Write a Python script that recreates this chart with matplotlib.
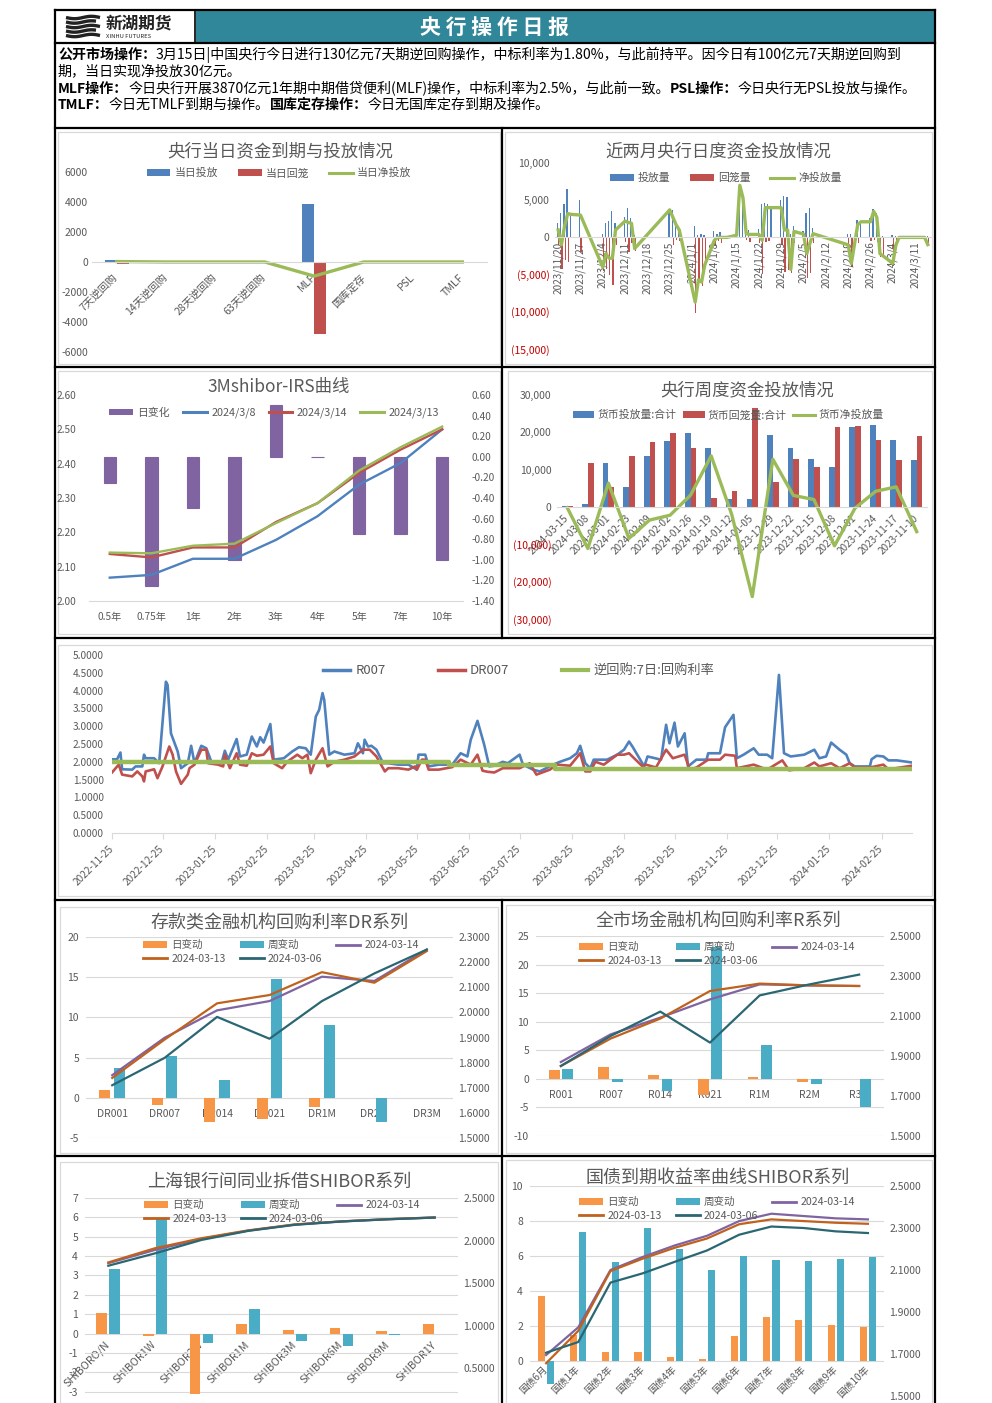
import matplotlib
matplotlib.use('Agg')
import matplotlib.pyplot as plt
import matplotlib.dates as mdates
import matplotlib.ticker as mticker
from matplotlib.patches import Rectangle, Patch
from matplotlib.lines import Line2D
import numpy as np

# ======================= DATA =======================
# Chart 1: 央行当日资金到期与投放情况
c1_cats = ['7天逆回购', '14天逆回购', '28天逆回购', '63天逆回购', 'MLF', '国库定存', 'PSL', 'TMLF']
c1_inject = [130, 0, 0, 0, 3870, 0, 0, 0]
c1_withdraw = [-100, 0, 0, 0, -4810, 0, 0, 0]
c1_net = [30, 0, 0, 0, -940, 0, 0, 0]

# Chart 2: 近两月央行日度资金投放情况
c2_dates = ['2023-11-20', '2023-11-21', '2023-11-22', '2023-11-23', '2023-11-24', '2023-11-27',
            '2023-12-04', '2023-12-05', '2023-12-06', '2023-12-07', '2023-12-08', '2023-12-11',
            '2023-12-12', '2023-12-13', '2023-12-14', '2023-12-25', '2023-12-26', '2023-12-27',
            '2023-12-28', '2024-01-02', '2024-01-03', '2024-01-04', '2024-01-05', '2024-01-08',
            '2024-01-09', '2024-01-10', '2024-01-12', '2024-01-15', '2024-01-16', '2024-01-17',
            '2024-01-18', '2024-01-19', '2024-01-22', '2024-01-23', '2024-01-24', '2024-01-25',
            '2024-01-26', '2024-01-29', '2024-01-30', '2024-01-31', '2024-02-01', '2024-02-02',
            '2024-02-05', '2024-02-06', '2024-02-07', '2024-02-08', '2024-02-19', '2024-02-20',
            '2024-02-22', '2024-02-23', '2024-02-26', '2024-02-27', '2024-02-28', '2024-02-29',
            '2024-03-01', '2024-03-04', '2024-03-05', '2024-03-06', '2024-03-07', '2024-03-08',
            '2024-03-11', '2024-03-12', '2024-03-13', '2024-03-14', '2024-03-15']
c2_inject = [2000, 3300, 4500, 6500, 3200, 5000,
             500, 2000, 2200, 3600, 2000, 2800,
             4000, 2600, 300, 3800, 3700, 2000,
             1500, 1500, 300, 500, 300, 800,
             500, 700, 0, 400, 7000, 5300,
             800, 1000, 1100, 4500, 4600, 4500,
             4000, 5000, 5600, 5400, 500, 1500,
             800, 3300, 4000, 1200, 500, 500,
             2400, 2100, 2600, 3800, 3300, 400,
             200, 300, 200, 200, 100, 100,
             100, 100, 100, 100, 130]
c2_withdraw = [-1000, -4300, -3000, -3300, -100, -2000,
               -4500, -4200, -5000, -6400, -1000, -600,
               -2000, -700, -1800, -100, -1000, -300,
               -500, -10200, -6000, -6500, -4000, -1200,
               -500, -700, 0, -100, 0, 0,
               -300, -600, -700, -4900, -600, -500,
               0, -1000, -4600, -4400, -4800, -700,
               -350, -5500, -4800, -700, -1500, -4000,
               -700, 0, -500, -300, -600, -2600,
               -2700, -3800, -1200, -200, -100, -100,
               -100, -100, -100, -100, -1100]
c2_net = [1000, -1000, 1500, 3200, 3100, 3000,
          -4000, -2200, -2800, -2800, 1000, 2200,
          2000, 1900, -1500, 3700, 2700, 1700,
          1000, -8700, -5700, -6000, -3700, -400,
          0, 0, 0, 300, 7000, 5300,
          500, 400, 400, -400, 4000, 4000,
          4000, 4000, 1000, 1000, -4300, 800,
          450, -2200, -800, 500, -1000, -3500,
          1700, 2100, 2100, 3500, 2700, -2200,
          -2500, -3500, -1000, 0, 0, 0,
          0, 0, 0, 0, -970]
c2_ticks = ['2023-11-20', '2023-11-27', '2023-12-04', '2023-12-11', '2023-12-18', '2023-12-25',
            '2024-01-01', '2024-01-08', '2024-01-15', '2024-01-22', '2024-01-29', '2024-02-05',
            '2024-02-12', '2024-02-19', '2024-02-26', '2024-03-04', '2024-03-11']

# Chart 3: 3Mshibor-IRS曲线
c3_tenors = ['0.5年', '0.75年', '1年', '2年', '3年', '4年', '5年', '7年', '10年']
c3_chg = [-0.25, -1.25, -0.50, -1.00, 0.50, 0.00, -0.75, -0.75, -1.00]
c3_0308 = [2.068, 2.076, 2.123, 2.123, 2.178, 2.247, 2.339, 2.402, 2.500]
c3_0314 = [2.137, 2.127, 2.156, 2.156, 2.230, 2.285, 2.373, 2.441, 2.500]
c3_0313 = [2.141, 2.139, 2.161, 2.167, 2.227, 2.285, 2.380, 2.448, 2.508]

# Chart 4: 央行周度资金投放情况
c4_weeks = ['2024-03-15', '2024-03-08', '2024-03-01', '2024-02-23', '2024-02-09', '2024-02-02',
            '2024-01-26', '2024-01-19', '2024-01-12', '2024-01-05', '2023-12-29', '2023-12-22',
            '2023-12-15', '2023-12-08', '2023-12-01', '2023-11-24', '2023-11-17', '2023-11-10']
c4_inject = [300, 700, 11800, 5300, 13700, 17600, 19800, 15800, 2200, 2200, 19300, 15800,
             12800, 10700, 21300, 21900, 17900, 12500]
c4_withdraw = [300, 11800, 5400, 13700, 17300, 19800, 15800, 2300, 4200, 26500, 6600, 12800,
               10700, 21300, 21800, 17900, 12500, 19000]
c4_net = [-200, -11100, 6400, -8400, -3500, -2200, 3200, 13700, -2000, -24000, 12800, 3100,
          2000, -10400, -300, 4200, 5400, -6600]

# Chart 5: R007 / DR007 / 逆回购7日利率
c5_r_dates = ['2022-11-25', '2022-11-28', '2022-11-30', '2022-12-01', '2022-12-07', '2022-12-09',
              '2022-12-13', '2022-12-14', '2022-12-15', '2022-12-20', '2022-12-23', '2022-12-27',
              '2022-12-28', '2022-12-30', '2023-01-03', '2023-01-05', '2023-01-09', '2023-01-11',
              '2023-01-13', '2023-01-17', '2023-01-20', '2023-01-23', '2023-01-29', '2023-01-31',
              '2023-02-02', '2023-02-07', '2023-02-09', '2023-02-13', '2023-02-16', '2023-02-19',
              '2023-02-21', '2023-02-23', '2023-02-27', '2023-03-01', '2023-03-07', '2023-03-12',
              '2023-03-16', '2023-03-20', '2023-03-23', '2023-03-26', '2023-03-28', '2023-03-30',
              '2023-03-31', '2023-04-03', '2023-04-06', '2023-04-12', '2023-04-18', '2023-04-20',
              '2023-04-23', '2023-04-24', '2023-04-26', '2023-04-28', '2023-05-01', '2023-05-05',
              '2023-05-08', '2023-05-14', '2023-05-20', '2023-05-25', '2023-05-26', '2023-05-30',
              '2023-06-01', '2023-06-07', '2023-06-15', '2023-06-20', '2023-06-24', '2023-06-26',
              '2023-06-30', '2023-07-04', '2023-07-07', '2023-07-10', '2023-07-15', '2023-07-18',
              '2023-07-25', '2023-07-27', '2023-08-02', '2023-08-06', '2023-08-14', '2023-08-18',
              '2023-08-24', '2023-08-28', '2023-08-30', '2023-09-02', '2023-09-05', '2023-09-07',
              '2023-09-15', '2023-09-21', '2023-09-25', '2023-09-28', '2023-09-30', '2023-10-07',
              '2023-10-09', '2023-10-17', '2023-10-20', '2023-10-22', '2023-10-25', '2023-10-27',
              '2023-10-31', '2023-11-02', '2023-11-07', '2023-11-13', '2023-11-14', '2023-11-21',
              '2023-11-24', '2023-11-29', '2023-12-01', '2023-12-05', '2023-12-11', '2023-12-14',
              '2023-12-19', '2023-12-22', '2023-12-26', '2023-12-29', '2024-01-02', '2024-01-10',
              '2024-01-16', '2024-01-19', '2024-01-23', '2024-01-26', '2024-01-31', '2024-02-04',
              '2024-02-06', '2024-02-09', '2024-02-18', '2024-02-19', '2024-02-22', '2024-02-26',
              '2024-02-29', '2024-03-05', '2024-03-14']
c5_r007 = [2.07, 2.07, 2.26, 1.79, 1.78, 1.87,
           1.87, 2.20, 2.10, 2.10, 1.96, 4.25,
           4.16, 2.80, 2.29, 1.82, 1.96, 2.45,
           1.96, 2.45, 2.38, 2.00, 1.96, 2.31,
           2.06, 2.64, 2.15, 2.20, 2.71, 2.43,
           2.69, 2.54, 3.06, 2.06, 2.10, 2.29,
           2.41, 2.38, 2.20, 3.27, 3.46, 3.93,
           3.74, 2.20, 2.29, 2.20, 2.24, 2.52,
           2.24, 2.62, 2.43, 2.45, 2.34, 1.96,
           1.96, 1.92, 1.92, 1.78, 2.20, 2.20,
           1.87, 1.92, 1.92, 2.24, 2.15, 2.62,
           3.15, 2.48, 1.87, 1.89, 2.00, 1.96,
           2.20, 1.92, 1.78, 1.73, 1.92, 2.00,
           2.10, 2.24, 2.45, 1.96, 1.82, 2.06,
           2.06, 2.20, 2.34, 2.57, 2.43, 1.87,
           2.15, 2.06, 3.04, 2.52, 3.10, 2.43,
           2.80, 1.87, 2.06, 2.06, 2.24, 2.24,
           2.97, 3.32, 2.10, 2.20, 2.38, 2.20,
           2.20, 2.10, 4.44, 2.24, 2.15, 2.20,
           2.34, 2.10, 2.15, 2.54, 2.34, 2.20,
           1.96, 1.87, 1.87, 2.07, 2.17, 2.15,
           2.04, 2.04, 1.98]
c5_dr_dates = ['2022-11-25', '2022-11-29', '2022-12-01', '2022-12-07', '2022-12-10', '2022-12-13',
               '2022-12-14', '2022-12-15', '2022-12-20', '2022-12-22', '2022-12-25', '2022-12-29',
               '2022-12-31', '2023-01-02', '2023-01-05', '2023-01-09', '2023-01-10', '2023-01-13',
               '2023-01-17', '2023-01-20', '2023-01-21', '2023-01-27', '2023-01-30', '2023-01-31',
               '2023-02-03', '2023-02-07', '2023-02-09', '2023-02-13', '2023-02-16', '2023-02-19',
               '2023-02-23', '2023-02-27', '2023-03-01', '2023-03-06', '2023-03-09', '2023-03-15',
               '2023-03-18', '2023-03-21', '2023-03-23', '2023-03-26', '2023-03-30', '2023-04-02',
               '2023-04-06', '2023-04-12', '2023-04-18', '2023-04-23', '2023-04-27', '2023-05-01',
               '2023-05-06', '2023-05-08', '2023-05-14', '2023-05-20', '2023-05-24', '2023-05-25',
               '2023-05-28', '2023-05-30', '2023-06-01', '2023-06-07', '2023-06-15', '2023-06-20',
               '2023-06-26', '2023-06-30', '2023-07-03', '2023-07-06', '2023-07-10', '2023-07-15',
               '2023-07-25', '2023-07-31', '2023-08-04', '2023-08-12', '2023-08-16', '2023-08-24',
               '2023-08-30', '2023-09-02', '2023-09-05', '2023-09-08', '2023-09-13', '2023-09-21',
               '2023-09-25', '2023-09-28', '2023-10-06', '2023-10-08', '2023-10-14', '2023-10-20',
               '2023-10-24', '2023-10-31', '2023-11-03', '2023-11-07', '2023-11-14', '2023-11-21',
               '2023-11-24', '2023-11-30', '2023-12-01', '2023-12-11', '2023-12-19', '2023-12-28',
               '2024-01-01', '2024-01-10', '2024-01-16', '2024-01-19', '2024-01-26', '2024-01-31',
               '2024-02-06', '2024-02-09', '2024-02-18', '2024-02-26', '2024-02-29', '2024-03-14']
c5_dr007 = [1.70, 1.92, 1.64, 1.59, 1.73, 1.59,
            1.45, 1.73, 1.79, 1.54, 1.87, 2.43,
            2.20, 1.73, 1.38, 1.64, 1.82, 1.92,
            2.34, 2.34, 1.96, 1.92, 1.87, 2.20,
            1.82, 2.24, 1.92, 1.89, 2.24, 2.17,
            2.20, 2.43, 1.96, 1.82, 2.00, 2.20,
            2.10, 2.20, 1.68, 2.06, 2.38, 1.87,
            2.00, 2.06, 2.15, 2.34, 2.34, 2.15,
            1.73, 1.82, 1.82, 1.78, 1.87, 1.78,
            2.06, 2.06, 1.78, 1.78, 1.85, 2.06,
            1.92, 2.20, 1.75, 1.72, 1.70, 1.82,
            1.82, 1.96, 1.64, 1.78, 1.92, 1.89,
            2.24, 1.73, 1.73, 2.00, 1.92, 2.20,
            2.20, 2.24, 1.87, 1.92, 1.84, 2.34,
            2.10, 2.20, 1.78, 1.84, 2.06, 2.06,
            2.20, 2.17, 1.82, 1.92, 1.78, 2.04,
            1.76, 1.82, 1.98, 1.87, 1.96, 1.82,
            1.96, 1.84, 1.84, 1.92, 1.79, 1.89]
c5_p_dates = ['2022-11-25', '2023-06-13', '2023-08-15', '2024-03-14']
c5_p_rate = [2.0, 1.9, 1.8, 1.8]
c5_xticks = ['2022-11-25', '2022-12-25', '2023-01-25', '2023-02-25', '2023-03-25', '2023-04-25',
             '2023-05-25', '2023-06-25', '2023-07-25', '2023-08-25', '2023-09-25', '2023-10-25',
             '2023-11-25', '2023-12-25', '2024-01-25', '2024-02-25']

# Chart 6: 存款类金融机构回购利率DR系列
c6_cats = ['DR001', 'DR007', 'DR014', 'DR021', 'DR1M', 'DR2M', 'DR3M']
c6_day = [1.0, -0.9, -3.0, -2.6, -1.2, 0.0, 0.0]
c6_week = [3.7, 5.2, 2.2, 14.8, 9.1, -3.0, 0.0]
c6_0314 = [1.750, 1.899, 2.008, 2.045, 2.142, 2.125, 2.250]
c6_0313 = [1.739, 1.892, 2.036, 2.069, 2.160, 2.118, 2.244]
c6_0306 = [1.710, 1.819, 1.982, 1.895, 2.045, 2.155, 2.250]

# Chart 7: 全市场金融机构回购利率R系列
c7_cats = ['R001', 'R007', 'R014', 'R021', 'R1M', 'R2M', 'R3M']
c7_day = [1.6, 2.0, 0.7, -2.9, 0.4, -0.6, 0.0]
c7_week = [1.8, -0.5, -2.2, 23.0, 6.0, -0.9, -5.0]
c7_0314 = [1.870, 2.008, 2.092, 2.183, 2.258, 2.253, 2.250]
c7_0313 = [1.850, 1.987, 2.087, 2.225, 2.262, 2.253, 2.250]
c7_0306 = [1.850, 2.000, 2.122, 1.967, 2.203, 2.258, 2.307]

# Chart 8: 上海银行间同业拆借SHIBOR系列
c8_cats = ['SHIBORO/N', 'SHIBOR1W', 'SHIBOR2W', 'SHIBOR1M', 'SHIBOR3M', 'SHIBOR6M', 'SHIBOR9M', 'SHIBOR1Y']
c8_day = [1.05, -0.15, -3.1, 0.5, 0.18, 0.3, 0.12, 0.5]
c8_week = [3.35, 5.9, -0.5, 1.25, -0.4, -0.65, -0.05, 0.0]
c8_0314 = [1.735, 1.890, 2.020, 2.117, 2.188, 2.225, 2.251, 2.271]
c8_0313 = [1.744, 1.910, 2.028, 2.120, 2.190, 2.226, 2.252, 2.272]
c8_0306 = [1.705, 1.850, 2.008, 2.114, 2.185, 2.224, 2.250, 2.270]

# Chart 9: 国债到期收益率曲线SHIBOR系列
c9_cats = ['国债6月', '国债1年', '国债2年', '国债3年', '国债4年', '国债5年', '国债6年',
           '国债7年', '国债8年', '国债9年', '国债10年']
c9_day = [3.7, 1.5, 0.5, 0.5, 0.25, 0.1, 1.45, 2.5, 2.35, 2.05, 1.95]
c9_week = [-1.3, 7.4, 5.65, 7.6, 6.4, 5.2, 6.0, 5.8, 5.7, 5.85, 5.95]
c9_0314 = [1.695, 1.827, 2.100, 2.162, 2.217, 2.263, 2.333, 2.368, 2.357, 2.346, 2.341]
c9_0313 = [1.656, 1.810, 2.095, 2.154, 2.206, 2.250, 2.318, 2.341, 2.333, 2.325, 2.320]
c9_0306 = [1.706, 1.757, 2.040, 2.084, 2.139, 2.193, 2.268, 2.307, 2.300, 2.284, 2.276]

combo_legend = ['日变动', '周变动', '2024-03-14', '2024-03-13', '2024-03-06']

# Text block
txt_lines = [
    [('公开市场操作：', True),
     ('3月15日|中国央行今日进行130亿元7天期逆回购操作，中标利率为1.80%，与此前持平。因今日有100亿元7天期逆回购到', False)],
    [('期，当日实现净投放30亿元。', False)],
    [('MLF操作：', True),
     ('今日央行开展3870亿元1年期中期借贷便利(MLF)操作，中标利率为2.5%，与此前一致。', False),
     ('PSL操作：', True), ('今日央行无PSL投放与操作。', False)],
    [('TMLF：', True), ('今日无TMLF到期与操作。', False),
     ('国库定存操作：', True), ('今日无国库定存到期及操作。', False)],
]

# ======================= STYLE =======================
plt.rcParams['font.family'] = ['Noto Sans CJK SC', 'DejaVu Sans']
plt.rcParams['axes.unicode_minus'] = False

W, H = 992, 1403
fig = plt.figure(figsize=(W / 100, H / 100), dpi=100)
fig.patch.set_facecolor('white')

BLUE = '#4F81BD'; RED = '#C0504D'; GREEN = '#9BBB59'; PURPLE = '#8064A2'
TEAL = '#4BACC6'; ORANGE = '#F79646'; BROWN = '#C0621E'; DTEAL = '#2B6773'
TXT = '#595959'; GRID = '#D9D9D9'; NEG = '#C00000'; HEAD = '#31879A'


def add_ax(x0, y0, x1, y1):
    ax = fig.add_axes([x0 / W, 1 - y1 / H, (x1 - x0) / W, (y1 - y0) / H])
    ax.patch.set_visible(False)
    for s in ax.spines.values():
        s.set_visible(False)
    return ax


def title(cx, cy, s, fs=12.5):
    fig.text(cx / W, 1 - cy / H, s, ha='center', va='center', fontsize=fs, color=TXT)


def legend(ax, handles, labels, cx, cy, fs=7.8, ncol=3, **kw):
    opts = dict(loc='center', bbox_to_anchor=(cx / W, 1 - cy / H), bbox_transform=fig.transFigure,
                ncol=ncol, frameon=False, fontsize=fs, labelcolor=TXT, handlelength=2.2,
                handleheight=0.55, handletextpad=0.4, columnspacing=1.8, borderpad=0,
                borderaxespad=0, labelspacing=0.35)
    opts.update(kw)
    return ax.legend(handles, labels, **opts)


def P(c):
    return Patch(facecolor=c, edgecolor='none')


def L(c, lw=2.2):
    return Line2D([], [], color=c, lw=lw)


def paren(v):
    return f'{v:,.0f}' if v >= 0 else f'({-v:,.0f})'


def zero_spine(ax):
    ax.spines['bottom'].set_visible(True)
    ax.spines['bottom'].set_position(('data', 0))
    ax.spines['bottom'].set_color(GRID)
    ax.spines['bottom'].set_linewidth(0.8)


def fmt(n):
    return mticker.FuncFormatter(lambda v, p: f'{0.0 if abs(v) < 1e-9 else v:.{n}f}')


# ======================= BACKGROUND / FRAMES =======================
bg = fig.add_axes([0, 0, 1, 1], zorder=-10)
bg.set_xlim(0, W); bg.set_ylim(H, 0); bg.axis('off')

bg.add_patch(Rectangle((196, 11), 738, 32, fc=HEAD, ec='none'))
for yy in [10, 43, 128, 367, 638, 900, 1156]:
    bg.plot([55, 935], [yy, yy], color='black', lw=1.6)
for xx in [55, 935]:
    bg.plot([xx, xx], [10, H], color='black', lw=1.6)
bg.plot([195, 195], [10, 43], color='black', lw=1.2)
bg.plot([502, 502], [128, 638], color='black', lw=1.6)
bg.plot([502, 502], [900, H], color='black', lw=1.6)
for (a, b, c, d) in [(58, 132, 500, 364), (505, 132, 932, 364), (58, 371, 500, 634), (508, 371, 932, 634),
                     (58, 645, 932, 896), (60, 907, 498, 1153), (506, 905, 932, 1153),
                     (60, 1162, 498, 1410), (506, 1160, 932, 1410)]:
    bg.add_patch(Rectangle((a, b), c - a, d - b, fill=False, ec=GRID, lw=0.9))

# logo
for i, yy in enumerate([17.5, 22, 26.5, 31, 35.5]):
    xs = np.linspace(66, 100 - (i % 2) * 4, 20)
    bg.plot(xs, yy + 1.2 * np.sin((xs - 66) / 34 * 2 * np.pi), color='#222222', lw=2.4,
            solid_capstyle='butt')
bg.text(106, 23.5, '新湖期货', fontsize=12, fontweight='bold', color='#222222', va='center', ha='left')
bg.text(106, 36.5, 'XINHU FUTURES', fontsize=4.2, color='#222222', va='center', ha='left')
bg.text(495, 27, '央 行 操 作 日 报', fontsize=15, fontweight='bold', color='white', va='center', ha='center')

# text block
renderer = fig.canvas.get_renderer()


def draw_segments(x, y, segs, fs, keep=True):
    ts = []
    for s, b in segs:
        t = bg.text(x, y, s, fontsize=fs, fontweight='bold' if b else 'normal', va='center', ha='left',
                    color='black')
        x += t.get_window_extent(renderer).width
        ts.append(t)
    if not keep:
        for t in ts:
            t.remove()
    return x


w1 = draw_segments(58, 55, txt_lines[0], 10, keep=False) - 58
w3 = draw_segments(58, 55, txt_lines[2], 10, keep=False) - 58
fs_txt = 10 * min(872 / w1, 860 / w3)
for i, segs in enumerate(txt_lines):
    draw_segments(58, 55 + i * 16.7, segs, fs_txt)

# ======================= CHART 1 =======================
ax1 = add_ax(92, 172, 487, 352)
x1 = np.arange(len(c1_cats))
ax1.bar(x1 - 0.12, c1_inject, 0.24, color=BLUE)
ax1.bar(x1 + 0.12, c1_withdraw, 0.24, color=RED)
ax1.plot(x1, c1_net, color=GREEN, lw=2.4)
ax1.set_xlim(-0.5, len(c1_cats) - 0.5)
ax1.set_ylim(-6000, 6000)
ax1.set_yticks(np.arange(-6000, 6001, 2000))
zero_spine(ax1)
ax1.set_xticks(x1)
ax1.set_xticklabels(c1_cats, rotation=45, ha='right', va='center', rotation_mode='anchor')
ax1.tick_params(axis='x', length=0, pad=10, labelsize=7.6, labelcolor=TXT)
ax1.tick_params(axis='y', length=0, pad=3, labelsize=7.5, labelcolor=TXT)
title(280, 151, '央行当日资金到期与投放情况')
legend(ax1, [P(BLUE), P(RED), L(GREEN)], ['当日投放', '当日回笼', '当日净投放'], 279, 173)

# ======================= CHART 2 =======================
ax2 = add_ax(555, 163, 931, 349)
d2 = mdates.datestr2num(c2_dates)
ax2.bar(d2 - 0.2, c2_inject, 0.4, color=BLUE)
ax2.bar(d2 + 0.2, c2_withdraw, 0.4, color=RED)
ax2.plot(d2, c2_net, color=GREEN, lw=2.4)
ax2.set_xlim(mdates.datestr2num('2023-11-19'), mdates.datestr2num('2024-03-16'))
ax2.set_ylim(-15000, 10000)
yt2 = [10000, 5000, 0, -5000, -10000, -15000]
ax2.set_yticks(yt2)
ax2.set_yticklabels([paren(v) for v in yt2])
for lab, v in zip(ax2.get_yticklabels(), yt2):
    lab.set_color(NEG if v < 0 else TXT)
zero_spine(ax2)
tk2 = mdates.datestr2num(c2_ticks)
ax2.set_xticks(tk2)
ax2.set_xticklabels([f"{s[:4]}/{int(s[5:7])}/{int(s[8:])}" for s in c2_ticks], rotation=90,
                    ha='center', va='top')
ax2.tick_params(axis='x', length=0, pad=3, labelsize=7.2, labelcolor=TXT)
ax2.tick_params(axis='y', length=0, pad=4, labelsize=7.5)
title(718, 151, '近两月央行日度资金投放情况')
legend(ax2, [P(BLUE), P(RED), L(GREEN)], ['投放量', '回笼量', '净投放量'], 726, 178)

# ======================= CHART 3 =======================
ax3 = add_ax(89, 395, 463, 601)
ax3r = ax3.twinx()
ax3r.patch.set_visible(False)
for s in ax3r.spines.values():
    s.set_visible(False)
x3 = np.arange(len(c3_tenors))
ax3r.bar(x3, c3_chg, 0.3, color=PURPLE, edgecolor=PURPLE, lw=0.8)
ax3.plot(x3, c3_0308, color=BLUE, lw=1.7)
ax3.plot(x3, c3_0314, color=RED, lw=1.7)
ax3.plot(x3, c3_0313, color=GREEN, lw=1.7)
ax3.set_zorder(ax3r.get_zorder() + 1)
ax3.set_xlim(-0.5, len(c3_tenors) - 0.5)
ax3.set_ylim(2.0, 2.6)
ax3.set_yticks(np.linspace(2.0, 2.6, 7))
ax3.yaxis.set_major_formatter(fmt(2))
ax3r.set_ylim(-1.4, 0.6)
ax3r.set_yticks(np.linspace(-1.4, 0.6, 11))
ax3r.yaxis.set_major_formatter(fmt(2))
ax3.spines['bottom'].set_visible(True)
ax3.spines['bottom'].set_color(GRID)
ax3.set_xticks(x3)
ax3.set_xticklabels(c3_tenors)
ax3.tick_params(axis='x', length=0, pad=8, labelsize=7.3, labelcolor=TXT)
ax3.tick_params(axis='y', length=0, pad=9, labelsize=7.3, labelcolor=TXT)
ax3r.tick_params(axis='y', length=0, pad=6, labelsize=7.3, labelcolor=TXT)
title(279, 387, '3Mshibor-IRS曲线')
legend(ax3, [P(PURPLE), L(BLUE), L(RED), L(GREEN)], ['日变化', '2024/3/8', '2024/3/14', '2024/3/13'],
       274, 413, ncol=4, columnspacing=1.2)

# ======================= CHART 4 =======================
ax4 = add_ax(557, 395, 927, 619)
x4 = np.arange(len(c4_weeks))
ax4.bar(x4 - 0.14, c4_inject, 0.28, color=BLUE)
ax4.bar(x4 + 0.14, c4_withdraw, 0.28, color=RED)
ax4.plot(x4, c4_net, color=GREEN, lw=2.4)
ax4.set_xlim(-0.5, len(c4_weeks) - 0.5)
ax4.set_ylim(-30000, 30000)
yt4 = [30000, 20000, 10000, 0, -10000, -20000, -30000]
ax4.set_yticks(yt4)
ax4.set_yticklabels([paren(v) for v in yt4])
for lab, v in zip(ax4.get_yticklabels(), yt4):
    lab.set_color(NEG if v < 0 else TXT)
zero_spine(ax4)
ax4.set_xticks(x4)
ax4.set_xticklabels(c4_weeks, rotation=45, ha='right', va='center', rotation_mode='anchor')
ax4.tick_params(axis='x', length=0, pad=7, labelsize=7.2, labelcolor=TXT)
ax4.tick_params(axis='y', length=0, pad=4, labelsize=7.5)
title(747, 390, '央行周度资金投放情况')
legend(ax4, [P(BLUE), P(RED), L(GREEN)], ['货币投放量:合计', '货币回笼量:合计', '货币净投放量'], 728, 415,
       columnspacing=0.6, handletextpad=0.3, handlelength=2.0)

# ======================= CHART 5 =======================
ax5 = add_ax(112, 655, 912, 833)
ax5.plot(mdates.datestr2num(c5_r_dates), c5_r007, color=BLUE, lw=1.9)
ax5.plot(mdates.datestr2num(c5_dr_dates), c5_dr007, color=RED, lw=1.9)
ax5.step(mdates.datestr2num(c5_p_dates), c5_p_rate, where='post', color=GREEN, lw=3.2)
ax5.set_xlim(mdates.datestr2num(c5_r_dates[0]), mdates.datestr2num(c5_r_dates[-1]))
ax5.set_ylim(0, 5)
ax5.set_yticks(np.linspace(0, 5, 11))
ax5.yaxis.set_major_formatter(fmt(4))
ax5.spines['bottom'].set_visible(True)
ax5.spines['bottom'].set_color(GRID)
ax5.set_xticks(mdates.datestr2num(c5_xticks))
ax5.set_xticklabels(c5_xticks, rotation=45, ha='right', va='center', rotation_mode='anchor')
ax5.tick_params(axis='x', length=4, color=GRID, pad=6, labelsize=7.3, labelcolor=TXT)
ax5.tick_params(axis='y', length=0, pad=6, labelsize=7.3, labelcolor=TXT)
legend(ax5, [L(BLUE, 2.5), L(RED, 2.5), L(GREEN, 3)], ['R007', 'DR007', '逆回购:7日:回购利率'],
       519, 671, fs=9.5, columnspacing=4.0, handlelength=2.0, handletextpad=0.4)


# ======================= COMBO CHARTS 6-9 =======================
def combo(box, cats, day, week, l14, l13, l06, lyl, lticks, ryl, rticks, off, bw,
          rot, xpad, xfs, ttl, tpos, lpos):
    ax = add_ax(*box)
    x = np.arange(len(cats))
    ax.bar(x - off, day, bw, color=ORANGE, zorder=2)
    ax.bar(x + off, week, bw, color=TEAL, zorder=2)
    ax.set_xlim(-0.5, len(cats) - 0.5)
    ax.set_ylim(*lyl)
    ax.set_yticks(lticks)
    ax.grid(axis='y', color=GRID, lw=0.8)
    ax.set_axisbelow(True)
    ax.spines['bottom'].set_position(('data', 0))
    ax.set_xticks(x)
    if rot:
        ax.set_xticklabels(cats, rotation=rot, ha='right', va='center', rotation_mode='anchor')
    else:
        ax.set_xticklabels(cats)
    ax.tick_params(axis='x', length=0, pad=xpad, labelsize=xfs, labelcolor=TXT)
    ax.tick_params(axis='y', length=0, pad=5, labelsize=7.5, labelcolor=TXT)
    axr = ax.twinx()
    axr.patch.set_visible(False)
    for s in axr.spines.values():
        s.set_visible(False)
    axr.plot(x, l14, color=PURPLE, lw=1.6)
    axr.plot(x, l13, color=BROWN, lw=1.6)
    axr.plot(x, l06, color=DTEAL, lw=1.6)
    axr.set_ylim(*ryl)
    axr.set_yticks(rticks)
    axr.yaxis.set_major_formatter(fmt(4))
    axr.tick_params(axis='y', length=0, pad=4, labelsize=7.5, labelcolor=TXT)
    title(*tpos, ttl, fs=13)
    hs = [P(ORANGE), L(BROWN, 2), P(TEAL), L(DTEAL, 2), L(PURPLE, 2)]
    ls = [combo_legend[0], combo_legend[3], combo_legend[1], combo_legend[4], combo_legend[2]]
    legend(axr, hs, ls, *lpos, fs=7.6, columnspacing=1.3, handlelength=2.3)
    return ax, axr


combo((86, 937, 453, 1138), c6_cats, c6_day, c6_week, c6_0314, c6_0313, c6_0306,
      (-5, 20), np.arange(-5, 21, 5), (1.5, 2.3), np.linspace(1.5, 2.3, 9), 0.14, 0.21, 0, 8, 7.5,
      '存款类金融机构回购利率DR系列', (279, 923), (281, 952))
combo((536, 936, 884, 1136), c7_cats, c7_day, c7_week, c7_0314, c7_0313, c7_0306,
      (-10, 25), np.arange(-10, 26, 5), (1.5, 2.5), np.linspace(1.5, 2.5, 6), 0.135, 0.22, 0, 8, 7.5,
      '全市场金融机构回购利率R系列', (718, 921), (717, 954))
combo((85, 1198, 458, 1411), c8_cats, c8_day, c8_week, c8_0314, c8_0313, c8_0306,
      (-4, 7), np.arange(-3, 8, 1), (0.0, 2.5), np.linspace(0.5, 2.5, 5), 0.14, 0.23, 45, 7, 7.8,
      '上海银行间同业拆借SHIBOR系列', (279, 1182), (282, 1212))
combo((530, 1186, 884, 1396), c9_cats, c9_day, c9_week, c9_0314, c9_0313, c9_0306,
      (-2, 10), np.arange(0, 11, 2), (1.5, 2.5), np.linspace(1.5, 2.5, 6), 0.143, 0.22, 45, 5, 7.0,
      '国债到期收益率曲线SHIBOR系列', (718, 1178), (717, 1209))

fig.savefig('out.png', dpi=100, facecolor='white')
